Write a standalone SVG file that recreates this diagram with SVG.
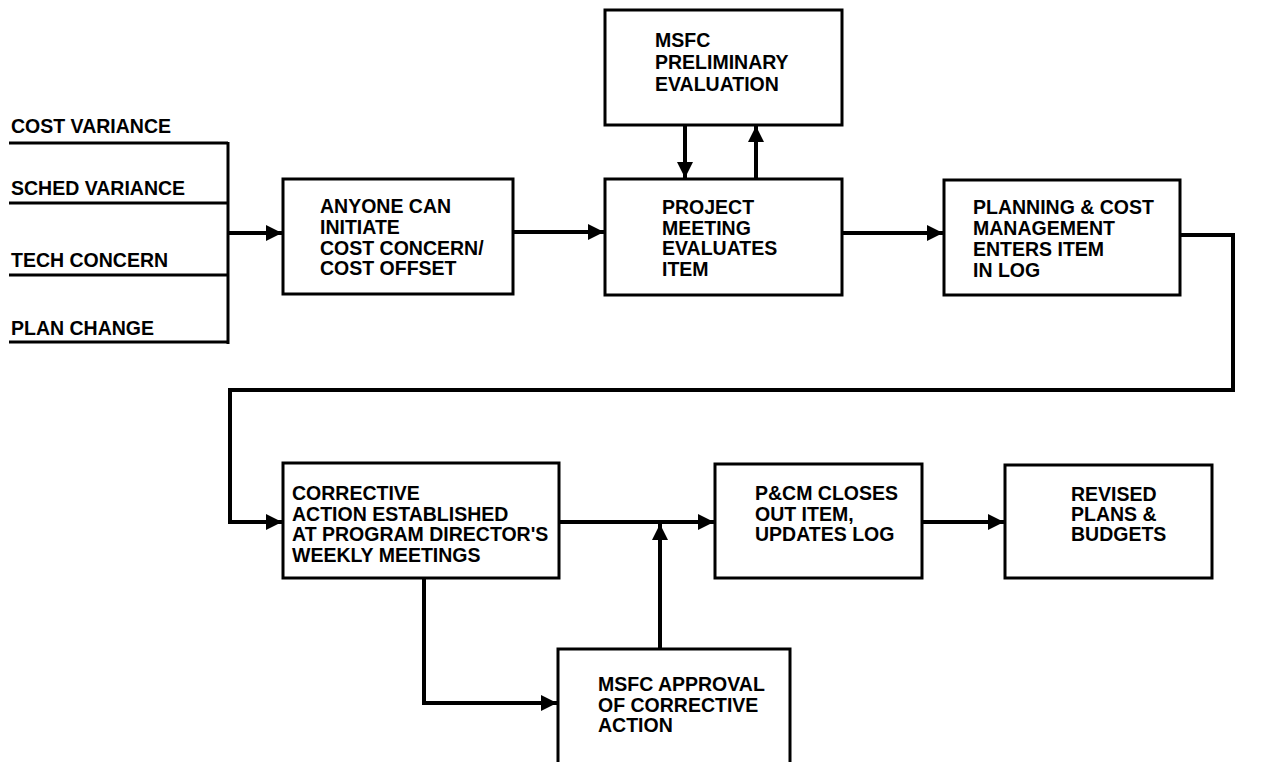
<svg xmlns="http://www.w3.org/2000/svg" width="1282" height="762" viewBox="0 0 1282 762">
<defs>
<style>
.box{fill:#fff;stroke:#000;stroke-width:3}
.t{font-family:"Liberation Sans",Arial,sans-serif;font-weight:bold;font-size:19.5px;fill:#000}
.c{fill:none;stroke:#000;stroke-width:4}
.in{fill:none;stroke:#000;stroke-width:3}
</style>
<marker id="ah" viewBox="0 0 10 10" refX="10" refY="5" markerWidth="4.2" markerHeight="4" markerUnits="strokeWidth" orient="auto">
<path d="M0,0 L10,5 L0,10 Z" fill="#000"/>
</marker>
</defs>
<rect width="1282" height="762" fill="#fff"/>

<g id="inputs">
<text class="t" x="11" y="133">COST VARIANCE</text>
<text class="t" x="11" y="195">SCHED VARIANCE</text>
<text class="t" x="11" y="267">TECH CONCERN</text>
<text class="t" x="11" y="335">PLAN CHANGE</text>
<path class="in" d="M9,143 H228 M9,203 H228 M9,275 H228 M9,342 H228 M228,142 V344"/>
</g>

<g id="connectors">
<path class="c" d="M228,233 H282" marker-end="url(#ah)"/>
<path class="c" d="M513,232 H604" marker-end="url(#ah)"/>
<path class="c" d="M685,126 V178" marker-end="url(#ah)"/>
<path class="c" d="M756,178 V126" marker-end="url(#ah)"/>
<path class="c" d="M842,233 H943" marker-end="url(#ah)"/>
<path class="c" d="M1180,235 H1233 V390 H230 V522 H282" marker-end="url(#ah)"/>
<path class="c" d="M559,522 H714" marker-end="url(#ah)"/>
<path class="c" d="M660,649 V524" marker-end="url(#ah)"/>
<path class="c" d="M922,522 H1004" marker-end="url(#ah)"/>
<path class="c" d="M424,578 V703 H557" marker-end="url(#ah)"/>
</g>

<g id="n-initiate">
<rect class="box" x="283" y="179" width="230" height="115"/>
<text class="t" x="320" y="213">ANYONE CAN</text>
<text class="t" x="320" y="234">INITIATE</text>
<text class="t" x="320" y="255">COST CONCERN/</text>
<text class="t" x="320" y="275">COST OFFSET</text>
</g>

<g id="n-msfc-prelim">
<rect class="box" x="605" y="10" width="237" height="115"/>
<text class="t" x="655" y="47">MSFC</text>
<text class="t" x="655" y="69">PRELIMINARY</text>
<text class="t" x="655" y="91">EVALUATION</text>
</g>

<g id="n-project">
<rect class="box" x="605" y="179" width="237" height="116"/>
<text class="t" x="662" y="214">PROJECT</text>
<text class="t" x="662" y="235">MEETING</text>
<text class="t" x="662" y="255">EVALUATES</text>
<text class="t" x="662" y="276">ITEM</text>
</g>

<g id="n-pcm-enters">
<rect class="box" x="944" y="180" width="236" height="115"/>
<text class="t" x="973" y="214">PLANNING &amp; COST</text>
<text class="t" x="973" y="235">MANAGEMENT</text>
<text class="t" x="973" y="256">ENTERS ITEM</text>
<text class="t" x="973" y="277">IN LOG</text>
</g>

<g id="n-corrective">
<rect class="box" x="283" y="463" width="276" height="115"/>
<text class="t" x="292" y="500">CORRECTIVE</text>
<text class="t" x="292" y="521">ACTION ESTABLISHED</text>
<text class="t" x="292" y="541">AT PROGRAM DIRECTOR'S</text>
<text class="t" x="292" y="562">WEEKLY MEETINGS</text>
</g>

<g id="n-closes">
<rect class="box" x="715" y="464" width="207" height="114"/>
<text class="t" x="755" y="500">P&amp;CM CLOSES</text>
<text class="t" x="755" y="521">OUT ITEM,</text>
<text class="t" x="755" y="541">UPDATES LOG</text>
</g>

<g id="n-revised">
<rect class="box" x="1005" y="465" width="207" height="113"/>
<text class="t" x="1071" y="501">REVISED</text>
<text class="t" x="1071" y="521">PLANS &amp;</text>
<text class="t" x="1071" y="541">BUDGETS</text>
</g>

<g id="n-msfc-approval">
<rect class="box" x="558" y="649" width="232" height="140"/>
<text class="t" x="598" y="691">MSFC APPROVAL</text>
<text class="t" x="598" y="712">OF CORRECTIVE</text>
<text class="t" x="598" y="732">ACTION</text>
</g>
</svg>
